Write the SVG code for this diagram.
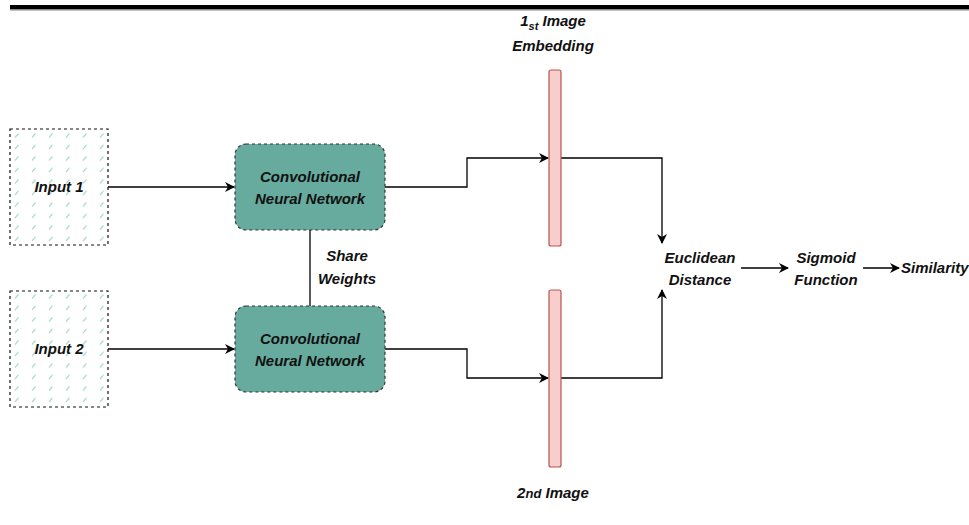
<svg xmlns="http://www.w3.org/2000/svg" width="969" height="525" viewBox="0 0 969 525">
<defs>
<style>
text{font-family:"Liberation Sans",Arial,sans-serif;font-size:15px;font-weight:bold;font-style:italic;fill:#111;text-anchor:middle;}
.conn{fill:none;stroke:#000;stroke-width:1.3;}
.input{stroke:#111;stroke-width:1.2;stroke-dasharray:3 3;fill:url(#hatch);}
.cnn{fill:#67AB9F;stroke:#333;stroke-width:1.2;stroke-dasharray:3 3;}
.emb{fill:#F8CECC;stroke:#B85450;stroke-width:1.2;}
</style>
<pattern id="hatch" patternUnits="userSpaceOnUse" width="17" height="11.5" x="10" y="129">
<line x1="5" y1="8.5" x2="8.5" y2="4.5" stroke="#9AD3C6" stroke-width="1.1"/>
</pattern>
<marker id="arrb" viewBox="0 0 10 10" refX="9" refY="5" markerWidth="10" markerHeight="10" markerUnits="userSpaceOnUse" orient="auto">
<path d="M0,0 L10,5 L0,10 L3,5 Z" fill="#000"/>
</marker>
</defs>
<rect x="0" y="0" width="969" height="525" fill="#fff"/>
<rect x="10" y="5" width="959" height="4" fill="#000"/>
<rect x="10" y="9" width="959" height="1.5" fill="#888"/>

<g id="connectors">
<path class="conn" d="M108,187 H234" marker-end="url(#arrb)"/>
<path class="conn" d="M108,349 H234" marker-end="url(#arrb)"/>
<path class="conn" d="M310,230 V306"/>
<path class="conn" d="M385,187 H467 V158 H548" marker-end="url(#arrb)"/>
<path class="conn" d="M385,349 H467 V378 H548" marker-end="url(#arrb)"/>
<path class="conn" d="M561,158 H662 V243" marker-end="url(#arrb)"/>
<path class="conn" d="M561,378 H662 V290" marker-end="url(#arrb)"/>
<path class="conn" d="M741,268 H788" marker-end="url(#arrb)"/>
<path class="conn" d="M863,268 H899" marker-end="url(#arrb)"/>
</g>

<g id="input1">
<rect class="input" x="10" y="129" width="98" height="116"/>
<text x="59" y="192">Input 1</text>
</g>
<g id="input2">
<rect class="input" x="10" y="291" width="98" height="116"/>
<text x="59" y="354">Input 2</text>
</g>
<g id="cnn1">
<rect class="cnn" x="235" y="144" width="150" height="86" rx="11"/>
<text x="310" y="182">Convolutional</text>
<text x="310" y="204">Neural Network</text>
</g>
<g id="cnn2">
<rect class="cnn" x="235" y="306" width="150" height="86" rx="11"/>
<text x="310" y="344">Convolutional</text>
<text x="310" y="366">Neural Network</text>
</g>
<g id="share">
<text x="347" y="261">Share</text>
<text x="347" y="284">Weights</text>
</g>
<g id="emb1">
<rect class="emb" x="549" y="70" width="12" height="176" rx="2"/>
<text x="553" y="26">1<tspan font-size="11" dy="4">st</tspan><tspan dy="-4"> Image</tspan></text>
<text x="553" y="51">Embedding</text>
</g>
<g id="emb2">
<rect class="emb" x="549" y="290" width="12" height="177" rx="2"/>
<text x="553" y="498">2<tspan font-size="13">nd</tspan> Image</text>
</g>
<g id="euclid">
<text x="700" y="263">Euclidean</text>
<text x="700" y="285">Distance</text>
</g>
<g id="sigmoid">
<text x="826" y="263">Sigmoid</text>
<text x="826" y="285">Function</text>
</g>
<g id="similarity">
<text x="901" y="273" style="text-anchor:start">Similarity</text>
</g>
</svg>
